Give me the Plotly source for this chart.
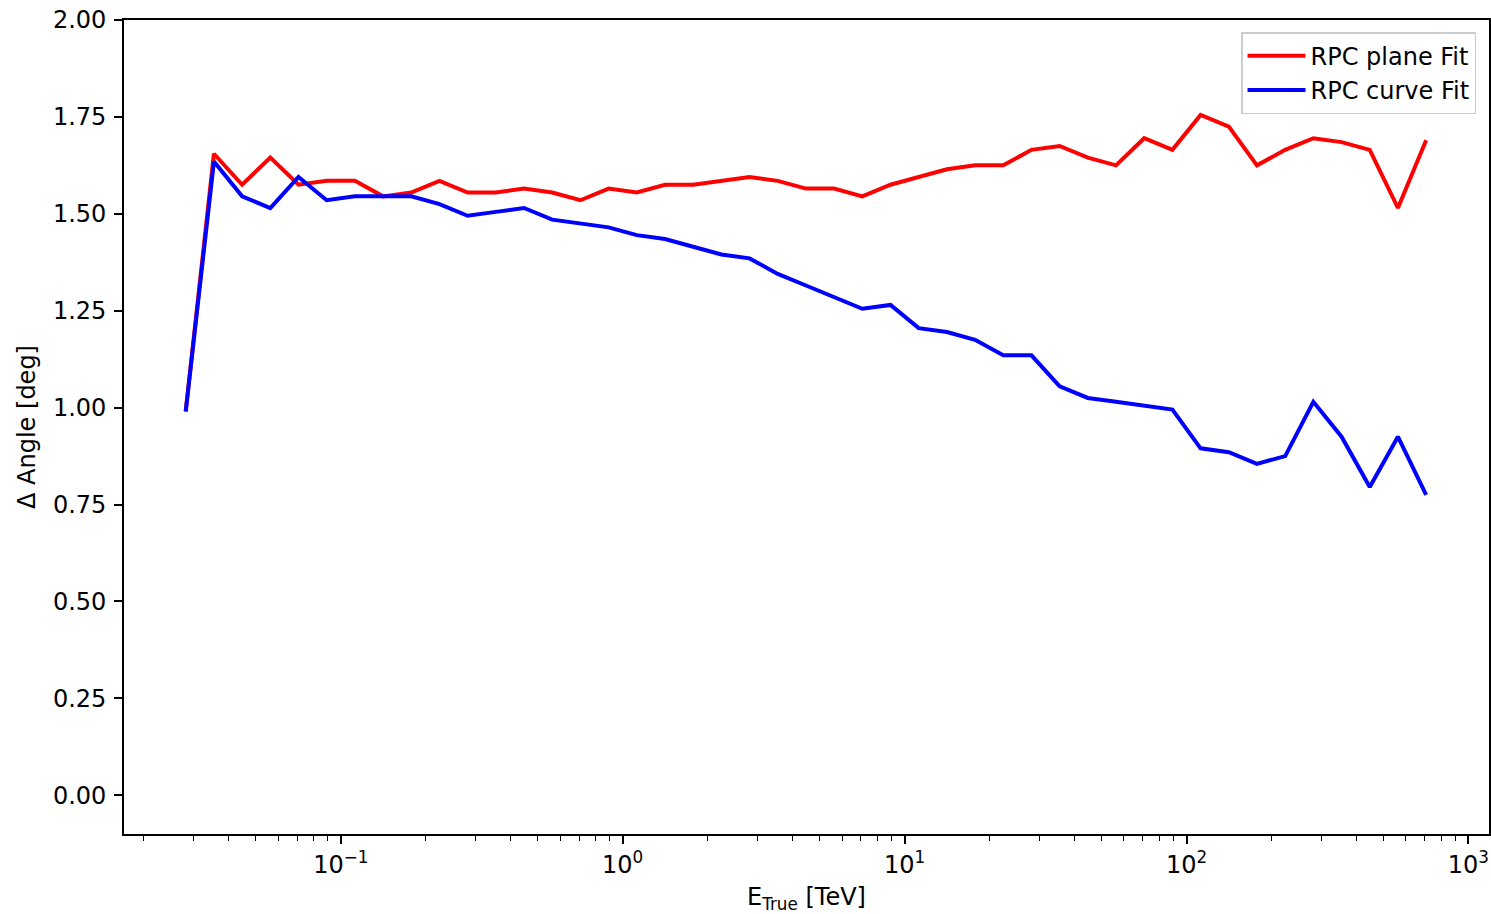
import plotly.graph_objects as go

# Energy bin centres [TeV] (log-spaced)
energy = [0.02818, 0.03548, 0.04467, 0.05623, 0.07079, 0.08913, 0.1122, 0.1413, 0.1778, 0.2239,
          0.2818, 0.3548, 0.4467, 0.5623, 0.7079, 0.8913, 1.122, 1.413, 1.778, 2.239,
          2.818, 3.548, 4.467, 5.623, 7.079, 8.913, 11.22, 14.13, 17.78, 22.39,
          28.18, 35.48, 44.67, 56.23, 70.79, 89.13, 112.2, 141.3, 177.8, 223.9,
          281.8, 354.8, 446.7, 562.3, 707.9]

plane_fit = [0.99, 1.655, 1.575, 1.645, 1.575, 1.585, 1.585, 1.545, 1.555, 1.585,
             1.555, 1.555, 1.565, 1.555, 1.535, 1.565, 1.555, 1.575, 1.575, 1.585,
             1.595, 1.585, 1.565, 1.565, 1.545, 1.575, 1.595, 1.615, 1.625, 1.625,
             1.665, 1.675, 1.645, 1.625, 1.695, 1.665, 1.755, 1.725, 1.625, 1.665,
             1.695, 1.685, 1.665, 1.515, 1.690]

curve_fit = [0.99, 1.635, 1.545, 1.515, 1.595, 1.535, 1.545, 1.545, 1.545, 1.525,
             1.495, 1.505, 1.515, 1.485, 1.475, 1.465, 1.445, 1.435, 1.415, 1.395,
             1.385, 1.345, 1.315, 1.285, 1.255, 1.265, 1.205, 1.195, 1.175, 1.135,
             1.135, 1.055, 1.025, 1.015, 1.005, 0.995, 0.895, 0.885, 0.855, 0.875,
             1.015, 0.925, 0.795, 0.925, 0.775]

y_ticks = [0.0, 0.25, 0.5, 0.75, 1.0, 1.25, 1.5, 1.75, 2.0]
x_major = [0.1, 1, 10, 100, 1000]
x_major_text = ["10<sup>−1</sup>", "10<sup>0</sup>", "10<sup>1</sup>", "10<sup>2</sup>", "10<sup>3</sup>"]
x_minor = [m * d for d in [0.01, 0.1, 1, 10, 100] for m in range(2, 10)]

FONT = "DejaVu Sans"
FS = 24

fig = go.Figure()
fig.add_trace(go.Scatter(x=energy, y=plane_fit, mode="lines", name="RPC plane Fit",
                         line=dict(color="#ff0000", width=4)))
fig.add_trace(go.Scatter(x=energy, y=curve_fit, mode="lines", name="RPC curve Fit",
                         line=dict(color="#0000ff", width=4)))

fig.update_layout(
    width=1491, height=914,
    margin=dict(l=124, r=2, t=20, b=80, autoexpand=False),
    paper_bgcolor="white", plot_bgcolor="white",
    font=dict(family=FONT, size=FS, color="black"),
    showlegend=True,
    legend=dict(x=0.9905, y=0.985, xanchor="right", yanchor="top",
                bgcolor="rgba(255,255,255,0.8)", bordercolor="#cccccc", borderwidth=1.5,
                font=dict(family=FONT, size=FS), itemwidth=58, tracegroupgap=4),
)

fig.update_xaxes(
    type="log", range=[-1.769, 3.073], automargin=False,
    tickvals=x_major, ticktext=x_major_text,
    ticks="outside", ticklen=8, tickwidth=1.5, tickcolor="black",
    minor=dict(tickvals=x_minor, ticks="outside", ticklen=5, tickwidth=1.2, tickcolor="black", showgrid=False),
    showline=True, linecolor="black", linewidth=1.6, mirror=True,
    showgrid=False, zeroline=False,
    title=dict(text="E<sub>True</sub> [TeV]", standoff=14, font=dict(family=FONT, size=FS)),
)
fig.update_yaxes(
    range=[-0.1, 2.0], automargin=False,
    tickvals=y_ticks, tickformat=".2f", ticklabelstandoff=3,
    ticks="outside", ticklen=8, tickwidth=1.5, tickcolor="black",
    showline=True, linecolor="black", linewidth=1.6, mirror=True,
    showgrid=False, zeroline=False,
    title=dict(text="Δ Angle [deg]", standoff=11, font=dict(family=FONT, size=FS)),
)

fig.write_html("out.html", config={"displayModeBar": False},
               post_script="document.body.style.margin='0px';document.body.style.overflow='hidden';")
